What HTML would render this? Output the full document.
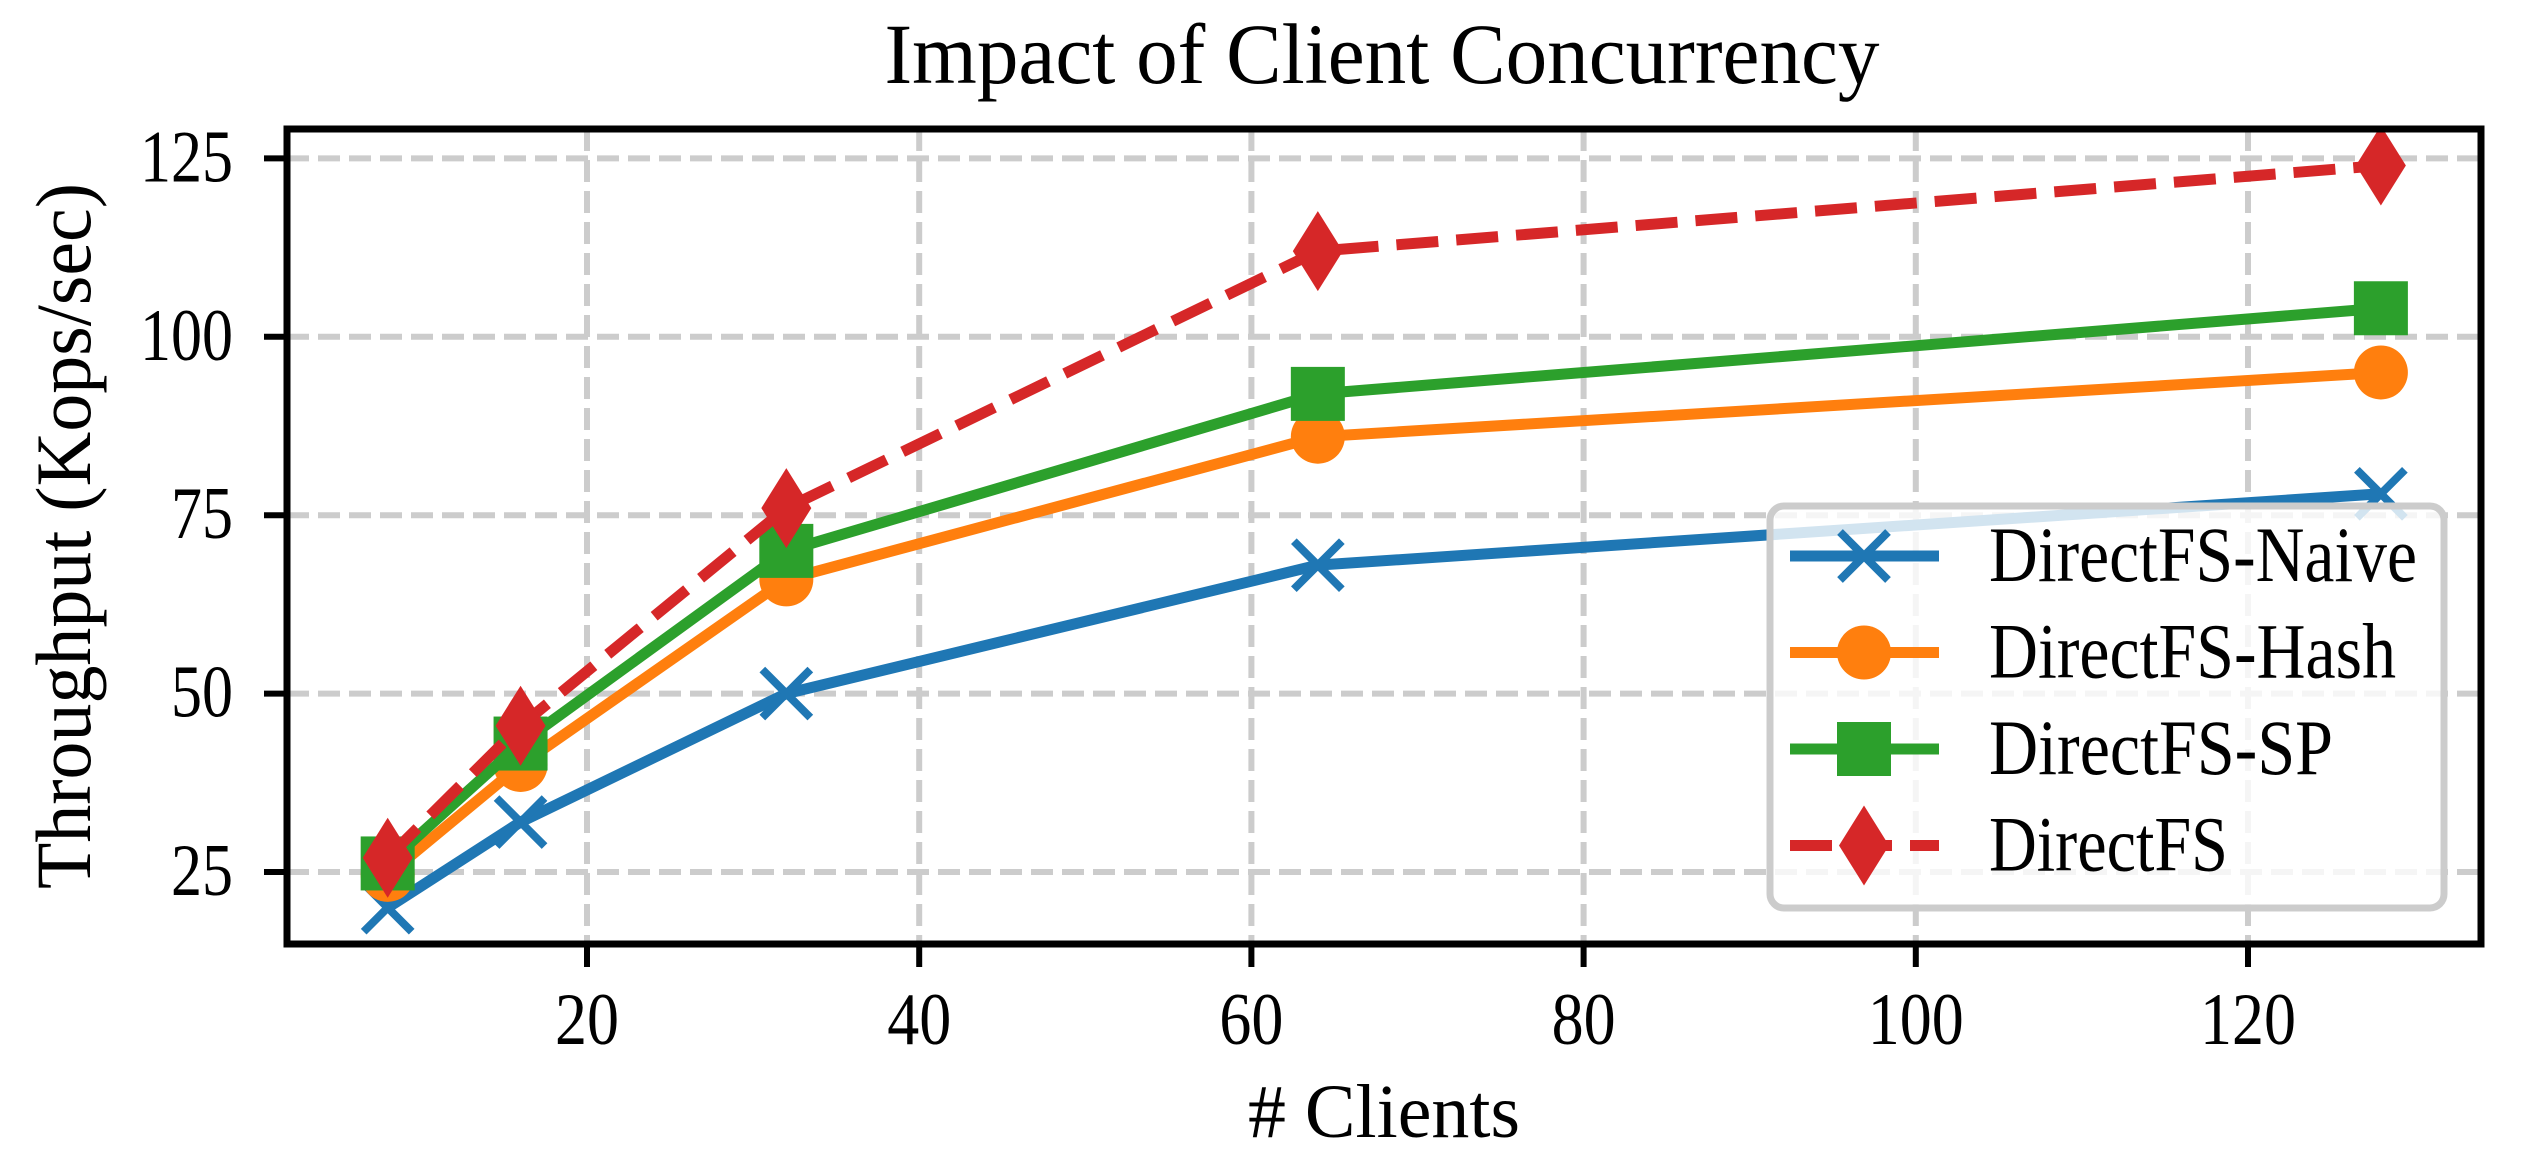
<!DOCTYPE html>
<html><head><meta charset="utf-8"><style>
html,body{margin:0;padding:0;background:#fff;}
svg{display:block;font-family:"Liberation Serif","DejaVu Serif",serif;}
</style></head><body>
<svg id="chart" width="2523" height="1174" viewBox="0 0 2523 1174">
<rect width="2523" height="1174" fill="#fff"/>
<text x="1382" y="83" font-size="86" text-anchor="middle" textLength="995" lengthAdjust="spacingAndGlyphs">Impact of Client Concurrency</text>
<g id="grid"></g>
<g id="series"></g>
<rect x="287" y="129" width="2194" height="815" fill="none" stroke="#000" stroke-width="7"/>
<g id="ticks"></g>
<text x="1384" y="1137" font-size="76" text-anchor="middle" textLength="272" lengthAdjust="spacingAndGlyphs">#&#160;Clients</text>
<text transform="translate(90,536) rotate(-90)" font-size="78" text-anchor="middle" textLength="706" lengthAdjust="spacingAndGlyphs">Throughput (Kops/sec)</text>
<g id="legend"></g>
</svg>
<script>
const clients = [8, 16, 32, 64, 128];
const naive = [20, 32, 50, 68, 78];
const hash = [24.6, 40, 66, 86, 95];
const sp = [26.2, 43, 70, 92, 104];
const directfs = [27, 45.5, 76, 112, 124];
const xTicks = [20, 40, 60, 80, 100, 120];
const yTicks = [25, 50, 75, 100, 125];
const seriesNames = ["DirectFS-Naive", "DirectFS-Hash", "DirectFS-SP", "DirectFS"];
const legendWidths = [428, 407, 344, 239];

const NS = "http://www.w3.org/2000/svg";
function X(v){ return 587 + (v - 20) * 16.61; }
function Y(v){ return 872 - (v - 25) * 7.136; }
function mk(tag, attrs, parent){
  const e = document.createElementNS(NS, tag);
  for (const k in attrs) e.setAttribute(k, attrs[k]);
  parent.appendChild(e); return e;
}
const grid = document.getElementById('grid');
const ticks = document.getElementById('ticks');
xTicks.forEach(t => {
  const g = mk('line', {x1:X(t), x2:X(t), y1:129, y2:944, stroke:'#cccccc', 'stroke-width':6, 'stroke-dasharray':'22 9'}, grid);
  
  
  const tk = mk('line', {x1:X(t), x2:X(t), y1:944, y2:967, stroke:'#000', 'stroke-width':6}, ticks);
  
  
  const s = String(t);
  const tl = mk('text', {x:X(t), y:1044, 'font-size':74, 'text-anchor':'middle', textLength:s.length*32, lengthAdjust:'spacingAndGlyphs'}, ticks);
  tl.textContent = s;
  
  
});
yTicks.forEach(t => {
  const g = mk('line', {x1:287, x2:2481, y1:Y(t), y2:Y(t), stroke:'#cccccc', 'stroke-width':6, 'stroke-dasharray':'22 9'}, grid);
  
  
  const tk = mk('line', {x1:264, x2:287, y1:Y(t), y2:Y(t), stroke:'#000', 'stroke-width':6}, ticks);
  
  
  const s = String(t);
  const tl = mk('text', {x:233, y:Y(t)+23, 'font-size':74, 'text-anchor':'end', textLength:s.length*31, lengthAdjust:'spacingAndGlyphs'}, ticks);
  tl.textContent = s;
  
  
});

const colors = ['#1f77b4', '#ff7f0e', '#2ca02c', '#d62728'];
const markers = ['x', 'o', 's', 'd'];
const allData = [naive, hash, sp, directfs];
function marker(type, cx, cy, color, parent){
  let e;
  if (type === 'x') {
    e = mk('path', {d:`M${cx-24},${cy-24}L${cx+24},${cy+24}M${cx-24},${cy+24}L${cx+24},${cy-24}`, stroke:color, 'stroke-width':8, fill:'none'}, parent);
  } else if (type === 'o') {
    e = mk('circle', {cx:cx, cy:cy, r:27, fill:color}, parent);
  } else if (type === 's') {
    e = mk('rect', {x:cx-27, y:cy-27, width:54, height:54, fill:color}, parent);
  } else {
    e = mk('path', {d:`M${cx},${cy-40}L${cx+25},${cy}L${cx},${cy+40}L${cx-25},${cy}Z`, fill:color}, parent);
  }
  return e;
}
const sg = document.getElementById('series');
allData.forEach((vals, i) => {
  const pts = vals.map((v, j) => X(clients[j]) + ',' + Y(v)).join(' ');
  const attrs = {points:pts, fill:'none', stroke:colors[i], 'stroke-width':11, 'stroke-linejoin':'round'};
  if (i === 3) attrs['stroke-dasharray'] = '42 18';
  const pl = mk('polyline', attrs, sg);
  
  
  vals.forEach((v, j) => {
    const m = marker(markers[i], X(clients[j]), Y(v), colors[i], sg);
    
    
  });
});

const lg = document.getElementById('legend');
const box = mk('rect', {x:1770, y:506, width:674, height:402, rx:14, fill:'rgba(255,255,255,0.8)', stroke:'#cccccc', 'stroke-width':7}, lg);


seriesNames.forEach((n, i) => {
  const cy = 556 + i * 96.5;
  const l = mk('line', {x1:1790, x2:1939, y1:cy, y2:cy, stroke:colors[i], 'stroke-width':11}, lg);
  if (i === 3) l.setAttribute('stroke-dasharray', '42 18');
  
  
  const m = marker(markers[i], 1864, cy, colors[i], lg);
  
  
  const t = mk('text', {x:1989, y:cy+25, 'font-size':78, textLength:legendWidths[i], lengthAdjust:'spacingAndGlyphs'}, lg);
  t.textContent = n;
  
  
});
</script>
</body></html>
